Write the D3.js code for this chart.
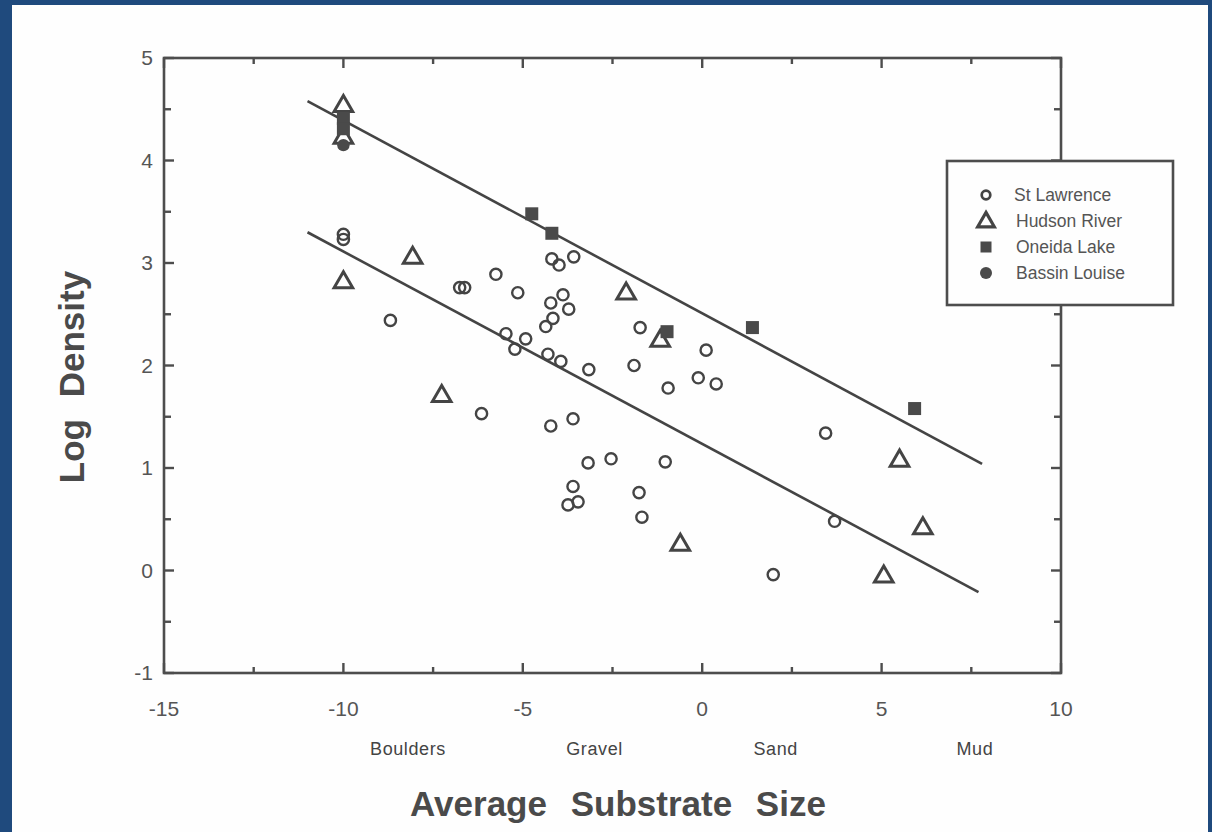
<!DOCTYPE html>
<html>
<head>
<meta charset="utf-8">
<script src="https://cdn.jsdelivr.net/npm/d3@7"></script>
<style>
  html, body { margin: 0; padding: 0; background: #1f4a7d; }
  svg { display: block; }
</style>
</head>
<body>
<svg id="chart" width="1212" height="832"></svg>
<script>
// Log density against average substrate size, four sampling sites.
const stLawrence = [
  [-10, 3.28], [-10, 3.23], [-8.69, 2.44], [-6.76, 2.76], [-6.62, 2.76],
  [-5.75, 2.89], [-5.14, 2.71], [-4.19, 3.04], [-3.99, 2.98], [-3.58, 3.06],
  [-3.88, 2.69], [-4.22, 2.61], [-3.72, 2.55], [-4.16, 2.46], [-4.36, 2.38],
  [-5.47, 2.31], [-4.92, 2.26], [-5.22, 2.16], [-4.30, 2.11], [-3.94, 2.04],
  [-3.16, 1.96], [-1.90, 2.00], [-1.73, 2.37], [0.11, 2.15], [-0.95, 1.78],
  [-0.11, 1.88], [0.39, 1.82], [-6.15, 1.53], [-4.22, 1.41], [-3.60, 1.48],
  [-3.18, 1.05], [-2.54, 1.09], [-1.03, 1.06], [-3.60, 0.82], [-3.74, 0.64],
  [-3.46, 0.67], [-1.76, 0.76], [-1.68, 0.52], [3.44, 1.34], [3.69, 0.48],
  [1.98, -0.04]
];
const hudsonRiver = [
  [-10, 4.53], [-10, 4.22], [-10, 2.81], [-8.07, 3.05], [-7.26, 1.70],
  [-2.12, 2.70], [-1.17, 2.24], [-0.61, 0.25], [5.50, 1.07], [6.15, 0.41],
  [5.06, -0.06]
];
const oneidaLake = [
  [-10, 4.41], [-10, 4.31], [-4.75, 3.48], [-4.19, 3.29], [-0.98, 2.33],
  [1.40, 2.37], [5.92, 1.58]
];
const bassinLouise = [
  [-10, 4.15]
];
// Two parallel fitted lines (end points).
const upperFit = [[-11.0, 4.58], [7.8, 1.04]];
const lowerFit = [[-11.0, 3.30], [7.7, -0.21]];

const xMajorTicks = [-15, -10, -5, 0, 5, 10];
const xMinorTicks = [-12.5, -7.5, -2.5, 2.5, 7.5];
const yMajorTicks = [-1, 0, 1, 2, 3, 4, 5];
const yMinorTicks = [-0.5, 0.5, 1.5, 2.5, 3.5, 4.5];
const sizeClasses = ["Boulders", "Gravel", "Sand", "Mud"];
const sizeClassX = [-8.2, -3.0, 2.05, 7.6];
const legendNames = ["St Lawrence", "Hudson River", "Oneida Lake", "Bassin Louise"];

const ink = "#4d4d4d";
const textInk = "#555";
const font = "'Liberation Sans', Arial, Helvetica, sans-serif";

const svg = d3.select("#chart");

// paper
svg.append("rect")
  .attr("x", 12).attr("y", 5).attr("width", 1196).attr("height", 827)
  .attr("fill", "#fefefe");

const plotL = 164, plotR = 1061, plotT = 58, plotB = 673;
const x = d3.scaleLinear().domain([-15, 10]).range([plotL, plotR]);
const y = d3.scaleLinear().domain([-1, 5]).range([plotB, plotT]);

const g = svg.append("g");

// frame
g.append("rect")
  .attr("x", plotL).attr("y", plotT)
  .attr("width", plotR - plotL).attr("height", plotB - plotT)
  .attr("fill", "none").attr("stroke", ink).attr("stroke-width", 2.6);

// inward ticks on all four sides
function xticks(values, len) {
  values.forEach(v => {
    g.append("line").attr("x1", x(v)).attr("x2", x(v))
      .attr("y1", plotB).attr("y2", plotB - len)
      .attr("stroke", ink).attr("stroke-width", 2.4);
    g.append("line").attr("x1", x(v)).attr("x2", x(v))
      .attr("y1", plotT).attr("y2", plotT + len)
      .attr("stroke", ink).attr("stroke-width", 2.4);
  });
}
function yticks(values, len) {
  values.forEach(v => {
    g.append("line").attr("y1", y(v)).attr("y2", y(v))
      .attr("x1", plotL).attr("x2", plotL + len)
      .attr("stroke", ink).attr("stroke-width", 2.4);
    g.append("line").attr("y1", y(v)).attr("y2", y(v))
      .attr("x1", plotR).attr("x2", plotR - len)
      .attr("stroke", ink).attr("stroke-width", 2.4);
  });
}
xticks(xMajorTicks, 10);
xticks(xMinorTicks, 6);
yticks(yMajorTicks, 10);
yticks(yMinorTicks, 7);

// tick labels
g.selectAll(".xl").data(xMajorTicks).join("text")
  .attr("x", d => x(d)).attr("y", 716)
  .attr("text-anchor", "middle")
  .attr("font-family", font).attr("font-size", 21).attr("fill", textInk)
  .text(d => d);
g.selectAll(".yl").data(yMajorTicks).join("text")
  .attr("x", 153).attr("y", d => y(d) + 7)
  .attr("text-anchor", "end")
  .attr("font-family", font).attr("font-size", 21).attr("fill", textInk)
  .text(d => d);

// substrate classes under the x axis
g.selectAll(".cls").data(sizeClasses).join("text")
  .attr("x", (d, i) => x(sizeClassX[i])).attr("y", 755)
  .attr("text-anchor", "middle")
  .attr("font-family", font).attr("font-size", 18).attr("fill", "#444")
  .attr("letter-spacing", 0.6)
  .text(d => d);

// axis titles
svg.append("text")
  .attr("x", 618).attr("y", 816)
  .attr("text-anchor", "middle")
  .attr("font-family", font).attr("font-weight", "bold")
  .attr("font-size", 35).attr("fill", "#4a4a4a")
  .attr("word-spacing", 14)
  .text("Average Substrate Size");
svg.append("text")
  .attr("transform", "translate(84,377) rotate(-90)")
  .attr("text-anchor", "middle")
  .attr("font-family", font).attr("font-weight", "bold")
  .attr("font-size", 35).attr("fill", "#4a4a4a")
  .attr("word-spacing", 12)
  .text("Log Density");

// fitted lines
const line = d3.line().x(d => x(d[0])).y(d => y(d[1]));
[upperFit, lowerFit].forEach(f => {
  g.append("path").attr("d", line(f))
    .attr("fill", "none").attr("stroke", "#444").attr("stroke-width", 2.6);
});

// markers
const triangle = d3.symbol().type(d3.symbolTriangle).size(150);

g.selectAll(".sl").data(stLawrence).join("circle")
  .attr("cx", d => x(d[0])).attr("cy", d => y(d[1]))
  .attr("r", 5.6).attr("fill", "none")
  .attr("stroke", "#444").attr("stroke-width", 2.4);

g.selectAll(".hr").data(hudsonRiver).join("path")
  .attr("d", triangle)
  .attr("transform", d => `translate(${x(d[0])},${y(d[1])})`)
  .attr("fill", "none").attr("stroke", "#444").attr("stroke-width", 3);

g.selectAll(".ol").data(oneidaLake).join("rect")
  .attr("x", d => x(d[0]) - 6.5).attr("y", d => y(d[1]) - 6.5)
  .attr("width", 13).attr("height", 13)
  .attr("fill", "#4a4a4a");

g.selectAll(".bl").data(bassinLouise).join("circle")
  .attr("cx", d => x(d[0])).attr("cy", d => y(d[1]))
  .attr("r", 6.2).attr("fill", "#4a4a4a");

// legend
const lg = svg.append("g");
lg.append("rect")
  .attr("x", 947).attr("y", 161).attr("width", 226).attr("height", 144)
  .attr("fill", "#fefefe").attr("stroke", ink).attr("stroke-width", 2.6);
const rowY = [195, 221, 247, 273];
const symX = 986;
lg.append("circle").attr("cx", symX).attr("cy", rowY[0])
  .attr("r", 4.3).attr("fill", "none").attr("stroke", "#444").attr("stroke-width", 2.7);
lg.append("path").attr("d", d3.symbol().type(d3.symbolTriangle).size(120)())
  .attr("transform", `translate(${symX},${rowY[1] + 1})`)
  .attr("fill", "none").attr("stroke", "#444").attr("stroke-width", 3.2);
lg.append("rect").attr("x", symX - 5.5).attr("y", rowY[2] - 5.5)
  .attr("width", 11).attr("height", 11).attr("fill", "#4a4a4a");
lg.append("circle").attr("cx", symX).attr("cy", rowY[3])
  .attr("r", 6).attr("fill", "#4a4a4a");
lg.selectAll(".lt").data(legendNames).join("text")
  .attr("x", (d, i) => i === 0 ? 1014 : 1016)
  .attr("y", (d, i) => rowY[i] + 6)
  .attr("font-family", font).attr("font-size", 17.5).attr("fill", textInk)
  .text(d => d);
</script>
</body>
</html>
